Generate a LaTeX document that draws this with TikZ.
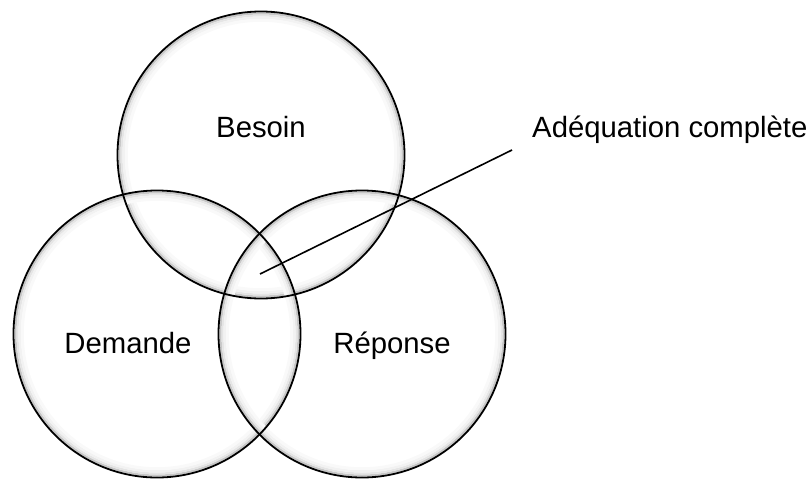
\documentclass[tikz,border=0pt]{standalone}
\usepackage{fontspec}
\setmainfont{Liberation Sans}
\begin{document}
\begin{tikzpicture}[x=1pt,y=-1pt,
  ring/.style={draw=black, line width=1.8pt},
  label/.style={font=\fontsize{29.3}{34}\selectfont, inner sep=0pt, anchor=base}]
\useasboundingbox (0,0) rectangle (811,479);
% soft inner halo of each circle
\foreach \cx/\cy in {261/155, 157/334, 362/334}{
  \draw[black!22, line width=2pt] (\cx,\cy) circle (141.5);
  \draw[black!10, line width=2pt] (\cx,\cy) circle (139.5);
  \draw[black!5, line width=2.5pt] (\cx,\cy) circle (137.3);
  \draw[black!2.5, line width=3pt] (\cx,\cy) circle (134.7);
}
\node[ring, circle, minimum size=287pt, inner sep=0pt] (besoin) at (261,155) {};
\node[ring, circle, minimum size=287pt, inner sep=0pt] (demande) at (157,334) {};
\node[ring, circle, minimum size=287pt, inner sep=0pt] (reponse) at (362,334) {};
\node[label] (tb) at (261,137) {Besoin};
\node[label] (td) at (128,353) {Demande};
\node[label] (tr) at (392,353) {Réponse};
\node[label, anchor=base west] (ta) at (532,137) {Adéquation complète};
\coordinate (centre) at (260,274);
\coordinate (tip) at (512,150);
\draw[line width=1.6pt] (centre) -- (tip);
\end{tikzpicture}
\end{document}
